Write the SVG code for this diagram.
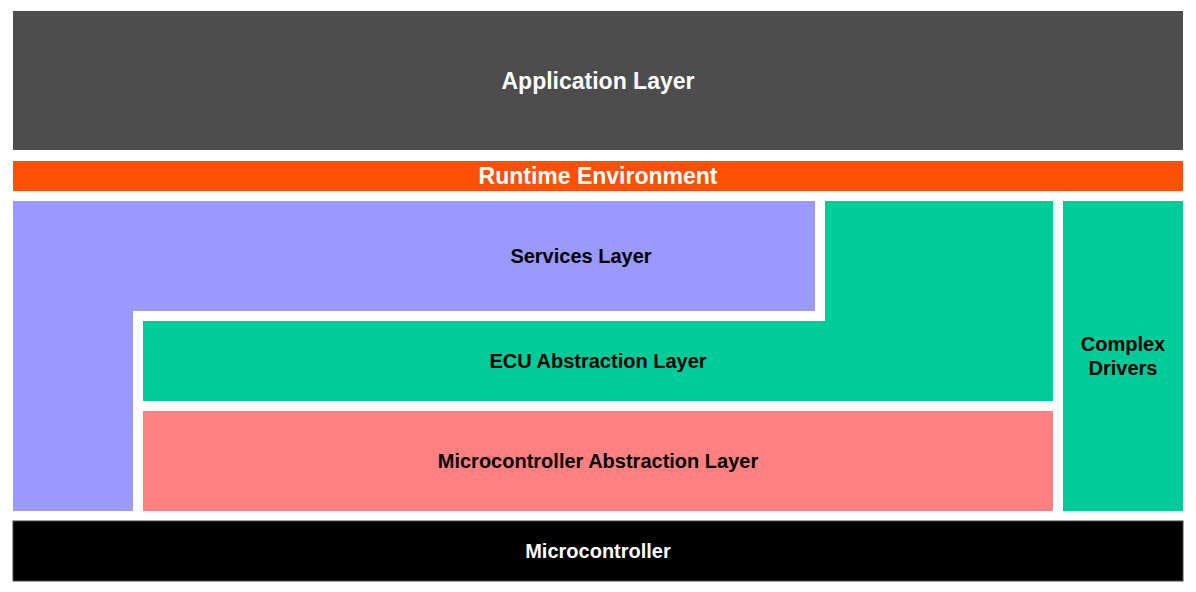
<svg xmlns="http://www.w3.org/2000/svg" width="1196" height="592" viewBox="0 0 1196 592">
<style>
text{font-family:"Liberation Sans",Arial,sans-serif;font-weight:bold;text-anchor:middle;dominant-baseline:central}
.w{fill:#ffffff}
.b{fill:#000000}
.l{font-size:23px}
.m{font-size:20px}
</style>
<rect width="1196" height="592" fill="#ffffff"/>
<g id="application">
<rect x="13" y="11" width="1170" height="139" fill="#4d4d4d"/>
<text class="w l" x="598" y="81">Application Layer</text>
</g>
<g id="runtime">
<rect x="13" y="161" width="1170" height="30" fill="#ff5005"/>
<text class="w l" x="598" y="176">Runtime Environment</text>
</g>
<g id="services">
<path d="M13,201 H815 V311 H133 V511 H13 Z" fill="#9999ff"/>
<text class="b m" x="581" y="256">Services Layer</text>
</g>
<g id="ecu">
<path d="M825,201 H1053 V401 H143 V321 H825 Z" fill="#00cc99"/>
<text class="b m" x="598" y="361">ECU Abstraction Layer</text>
</g>
<g id="mcal">
<rect x="143" y="411" width="910" height="100" fill="#ff8080"/>
<text class="b m" x="598" y="461">Microcontroller Abstraction Layer</text>
</g>
<g id="complex">
<rect x="1063" y="201" width="120" height="310" fill="#00cc99"/>
<text class="b m" x="1123" y="344">Complex</text>
<text class="b m" x="1123" y="368">Drivers</text>
</g>
<g id="microcontroller">
<rect x="13" y="521" width="1170" height="60" fill="#000000" stroke="#444444" stroke-width="1"/>
<text class="w m" x="598" y="551">Microcontroller</text>
</g>
<g id="connectors"></g>
</svg>
